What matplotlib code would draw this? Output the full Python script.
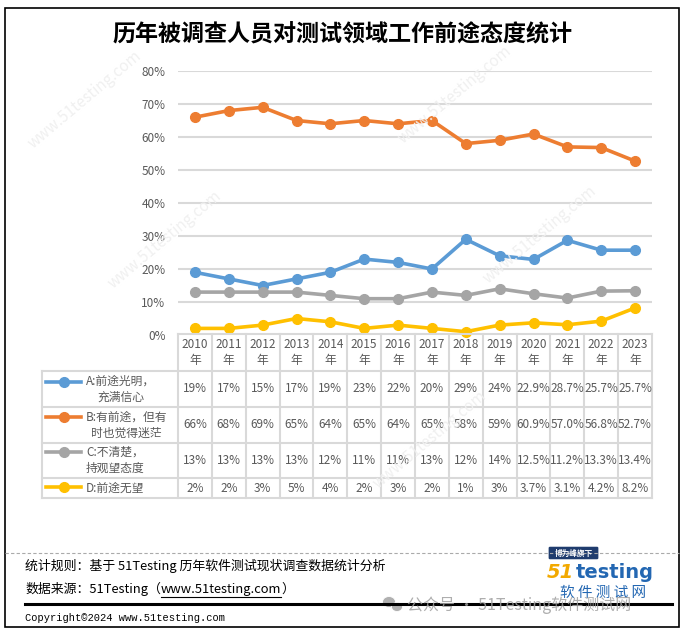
import matplotlib
matplotlib.use("Agg")
import matplotlib.pyplot as plt
from matplotlib.patches import Rectangle, FancyBboxPatch, Ellipse
from matplotlib.lines import Line2D

plt.rcParams['font.family'] = ['Noto Sans CJK SC', 'DejaVu Sans']

W, H = 686, 632

# data
years = ['2010', '2011', '2012', '2013', '2014', '2015', '2016',
         '2017', '2018', '2019', '2020', '2021', '2022', '2023']
series_names = ['A:前途光明，\n充满信心', 'B:有前途，但有\n时也觉得迷茫',
                'C:不清楚，\n持观望态度', 'D:前途无望']
val_a = [19, 17, 15, 17, 19, 23, 22, 20, 29, 24, 22.9, 28.7, 25.7, 25.7]
val_b = [66, 68, 69, 65, 64, 65, 64, 65, 58, 59, 60.9, 57.0, 56.8, 52.7]
val_c = [13, 13, 13, 13, 12, 11, 11, 13, 12, 14, 12.5, 11.2, 13.3, 13.4]
val_d = [2, 2, 3, 5, 4, 2, 3, 2, 1, 3, 3.7, 3.1, 4.2, 8.2]
decimals = [0] * 10 + [1] * 4
yticks = [0, 10, 20, 30, 40, 50, 60, 70, 80]

series = [val_a, val_b, val_c, val_d]
colors = ['#5B9BD5', '#ED7D31', '#A5A5A5', '#FFC000']
txt = '#595959'
grid = '#D9D9D9'


def fx(p):
    return p / W


def fy(p):
    return 1 - p / H


fig = plt.figure(figsize=(W / 100, H / 100), dpi=100)
fig.patch.set_facecolor('white')
r = fig.canvas.get_renderer()

# outer frame
fig.add_artist(Rectangle((fx(5), fy(627)), fx(679) - fx(5), fy(8) - fy(627),
                         transform=fig.transFigure, fill=False, ec='black', lw=1.2))

# watermarks
for (wx, wy) in [(85, 100), (455, 95), (165, 240), (540, 235), (430, 440)]:
    fig.text(fx(wx), fy(wy), 'www.51testing.com', rotation=40, fontsize=11,
             style='italic', color='#F0F0F0', ha='center', va='center', zorder=0)

fig.text(0.5, fy(35), '历年被调查人员对测试领域工作前途态度统计', ha='center', va='center',
         fontsize=16.6, fontweight='bold', color='black')

# main chart
x0, x1, ytop, ybot = 178, 652, 71, 335
ax = fig.add_axes([fx(x0), fy(ybot), fx(x1) - fx(x0), fy(ytop) - fy(ybot)])
ax.set_facecolor('none')
xs = list(range(len(years)))
for vals, c in zip(series, colors):
    ax.plot(xs, vals, color=c, lw=2.6, marker='o', ms=7, clip_on=False, zorder=3)
ax.set_xlim(-0.5, len(years) - 0.5)
ax.set_ylim(0, 80)
ax.set_yticks(yticks)
ax.set_yticklabels(['%d%%' % t for t in yticks], color=txt, fontsize=8.5)
ax.set_xticks([])
ax.tick_params(axis='y', length=0, pad=9)
for s in ax.spines.values():
    s.set_visible(False)
for t in yticks[1:]:
    ax.axhline(t, color=grid, lw=1.5, zorder=1)

# data table
tl, tb, tt = 42, 498, 334
colw = (x1 - x0) / len(years)
lx = -0.5 - (x0 - tl) / colw
tab = fig.add_axes([fx(tl), fy(tb), fx(x1) - fx(tl), fy(tt) - fy(tb)])
tab.set_xlim(lx, len(years) - 0.5)
tab.set_ylim(tb, tt)
tab.axis('off')
rows = [334, 371, 407, 443, 478, 498]
kw = dict(color=grid, lw=1.5, clip_on=False)
tab.plot([-0.5, len(years) - 0.5], [rows[0], rows[0]], **kw)
for rr in rows[1:]:
    tab.plot([lx, len(years) - 0.5], [rr, rr], **kw)
for i in range(len(years) + 1):
    tab.plot([i - 0.5, i - 0.5], [rows[0], rows[-1]], **kw)
tab.plot([lx, lx], [rows[1], rows[-1]], **kw)

for i, y in enumerate(years):
    tab.text(i, (rows[0] + rows[1]) / 2, y + '\n年', ha='center', va='center',
             fontsize=8.5, color=txt, linespacing=1.25)

lead = [382, 417, 452, 487]
for k, (name, vals, c) in enumerate(zip(series_names, series, colors)):
    cy = (rows[k + 1] + rows[k + 2]) / 2
    ly = lead[k]
    lx0 = lx + (46 - tl) / colw
    lx1 = lx + (81 - tl) / colw
    tab.plot([lx0, lx1], [ly, ly], color=c, lw=2.6, clip_on=False)
    tab.plot([(lx0 + lx1) / 2], [ly], 'o', color=c, ms=7, clip_on=False)
    tab.text(lx + (86 - tl) / colw, cy, name, ha='left', va='center', multialignment='center',
             fontsize=8.5, color=txt, linespacing=1.3)
    for i, v in enumerate(vals):
        s = ('%.1f%%' % v) if decimals[i] else ('%d%%' % round(v))
        tab.text(i, cy, s, ha='center', va='center', fontsize=8.5, color=txt)

# footer
fig.add_artist(Line2D([fx(5), fx(679)], [fy(553), fy(553)], transform=fig.transFigure,
                      color='#AAAAAA', lw=0.8, ls=(0, (3, 2))))
fig.text(fx(25), fy(566), '统计规则：基于 51Testing 历年软件测试现状调查数据统计分析',
         fontsize=9.3, color='black', va='center')
src = fig.text(fx(25), fy(589), '数据来源：51Testing（', fontsize=9.3, color='black',
               va='center')
bb = src.get_window_extent(r)
url = fig.text(bb.x1 / W, fy(589), 'www.51testing.com', fontsize=9.3, color='black',
               va='center')
ub = url.get_window_extent(r)
fig.text(ub.x1 / W, fy(589), '）', fontsize=9.3, color='black', va='center')
fig.add_artist(Line2D([ub.x0 / W, ub.x1 / W], [fy(597), fy(597)], transform=fig.transFigure,
                      color='black', lw=0.8))
fig.add_artist(Line2D([fx(25), fx(672)], [fy(604), fy(604)], transform=fig.transFigure,
                      color='black', lw=2.2))
fig.text(fx(25), fy(618), 'Copyright©2024 www.51testing.com', fontsize=7.5,
         family='Liberation Mono', color='black', va='center')

# logo
fig.add_artist(FancyBboxPatch((fx(550), fy(558)), fx(597) - fx(550), fy(548) - fy(558),
                              boxstyle='round,pad=0.002', transform=fig.transFigure,
                              fc='#1F3C6E', ec='none'))
fig.text(fx(573.5), fy(553), '博为峰旗下', fontsize=5.5, color='white', ha='center',
         va='center', fontweight='bold')
five = fig.text(fx(547), fy(573), '51', fontsize=14, color='#F2A900', fontweight='bold',
                style='italic', family='DejaVu Sans', va='center')
fb = five.get_window_extent(r)
fig.text(fb.x1 / W + fx(1), fy(573), 'testing', fontsize=14, color='#2367B2',
         fontweight='bold', family='DejaVu Sans', va='center')
fig.text(fx(603), fy(593), '软 件 测 试 网', fontsize=10.5, color='#2367B2',
         ha='center', va='center')

# wechat watermark
fig.add_artist(Ellipse((fx(389), fy(602)), fx(13) - fx(0), fy(0) - fy(11),
                       transform=fig.transFigure, fc='#B0B0B0', ec='white', lw=0.6))
fig.add_artist(Ellipse((fx(397), fy(607)), fx(11) - fx(0), fy(0) - fy(9),
                       transform=fig.transFigure, fc='#B0B0B0', ec='white', lw=0.6))
fig.text(fx(407), fy(605), '公众号 · 51Testing软件测试网', fontsize=11.5, color='#A0A0A0',
         alpha=0.85, va='center')

fig.savefig('out.png', dpi=100)
